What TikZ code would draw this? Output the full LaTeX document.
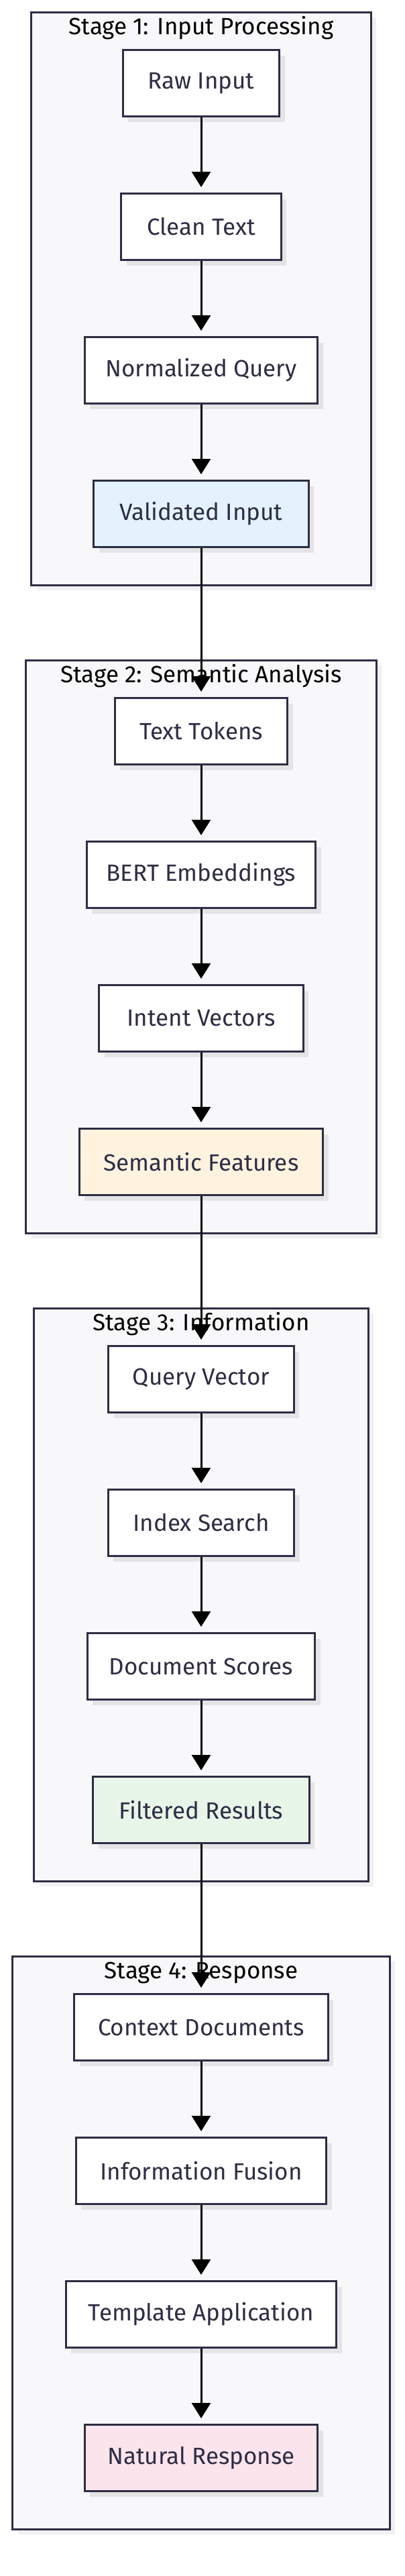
\documentclass[tikz,border=0pt]{standalone}
\usepackage{fontspec}
\setmainfont{Fira Sans}
\usepackage{tikz}
\usetikzlibrary{positioning, arrows.meta, fit, shadows, backgrounds}
\definecolor{ink}{HTML}{2D2D44}
\definecolor{stagebg}{HTML}{F8F8FA}
\definecolor{inputC}{HTML}{E3F2FD}
\definecolor{semC}{HTML}{FFF3E0}
\definecolor{infoC}{HTML}{E8F5E9}
\definecolor{respC}{HTML}{FCE4EC}

\begin{document}
\begin{tikzpicture}[>={Triangle[length=11.5pt, width=14pt]}, font=\fontsize{17.5}{21}\selectfont, node distance=56pt,
  box/.style={draw=ink, line width=1.5pt, fill=white, text=ink, minimum height=49.5pt, inner sep=0pt,
    drop shadow={shadow xshift=4pt, shadow yshift=-4pt, fill=black, opacity=0.08}},
  stage/.style={draw=ink, line width=1.5pt, fill=stagebg, inner xsep=39pt, inner ysep=27.5pt,
    drop shadow={shadow xshift=4pt, shadow yshift=-4pt, fill=black, opacity=0.06}},
  stagetitle/.style={anchor=base, text=black},
  flow/.style={->, line width=1.5pt, black, shorten >=4pt}]
  \useasboundingbox (-150pt,62pt) rectangle (152pt,-1858pt);

  % stage 1
  \node[box, minimum width=116.5pt] (raw) {Raw Input};
  \node[box, minimum width=119pt, below=of raw] (clean) {Clean Text};
  \node[box, minimum width=173.5pt, below=of clean] (norm) {Normalized Query};
  \node[box, fill=inputC, minimum width=160pt, below=of norm] (valid) {Validated Input};

  % stage 2
  \node[box, minimum width=128.5pt, below=111pt of valid] (tokens) {Text Tokens};
  \node[box, minimum width=170.5pt, below=of tokens] (bert) {BERT Embeddings};
  \node[box, minimum width=152pt, below=of bert] (intent) {Intent Vectors};
  \node[box, fill=semC, minimum width=181.5pt, below=of intent] (semfeat) {Semantic Features};

  % stage 3
  \node[box, minimum width=138pt, below=111pt of semfeat] (qvec) {Query Vector};
  \node[box, minimum width=138.5pt, below=of qvec] (search) {Index Search};
  \node[box, minimum width=169.5pt, below=of search] (scores) {Document Scores};
  \node[box, fill=infoC, minimum width=161pt, below=of scores] (filtered) {Filtered Results};

  % stage 4
  \node[box, minimum width=189pt, below=111pt of filtered] (context) {Context Documents};
  \node[box, minimum width=186.5pt, below=of context] (fusion) {Information Fusion};
  \node[box, minimum width=201.5pt, below=of fusion] (template) {Template Application};
  \node[box, fill=respC, minimum width=173.5pt, below=of template] (natural) {Natural Response};

  \begin{scope}[on background layer]
    \node[stage, fit=(raw)(clean)(norm)(valid)] (s1) {};
    \node[stage, fit=(tokens)(bert)(intent)(semfeat)] (s2) {};
    \node[stage, fit=(qvec)(search)(scores)(filtered)] (s3) {};
    \node[stage, fit=(context)(fusion)(template)(natural)] (s4) {};
  \end{scope}
  \node[stagetitle] (t1) at ([yshift=-17.5pt]s1.north) {Stage 1: Input Processing};
  \node[stagetitle] (t2) at ([yshift=-17.5pt]s2.north) {Stage 2: Semantic Analysis};
  \node[stagetitle] (t3) at ([yshift=-17.5pt]s3.north) {Stage 3: Information};
  \node[stagetitle] (t4) at ([yshift=-17.5pt]s4.north) {Stage 4: Response};

  \draw[flow] (raw) -- (clean);
  \draw[flow] (clean) -- (norm);
  \draw[flow] (norm) -- (valid);
  \draw[flow] (valid) -- (tokens);
  \draw[flow] (tokens) -- (bert);
  \draw[flow] (bert) -- (intent);
  \draw[flow] (intent) -- (semfeat);
  \draw[flow] (semfeat) -- (qvec);
  \draw[flow] (qvec) -- (search);
  \draw[flow] (search) -- (scores);
  \draw[flow] (scores) -- (filtered);
  \draw[flow] (filtered) -- (context);
  \draw[flow] (context) -- (fusion);
  \draw[flow] (fusion) -- (template);
  \draw[flow] (template) -- (natural);
\end{tikzpicture}
\end{document}
